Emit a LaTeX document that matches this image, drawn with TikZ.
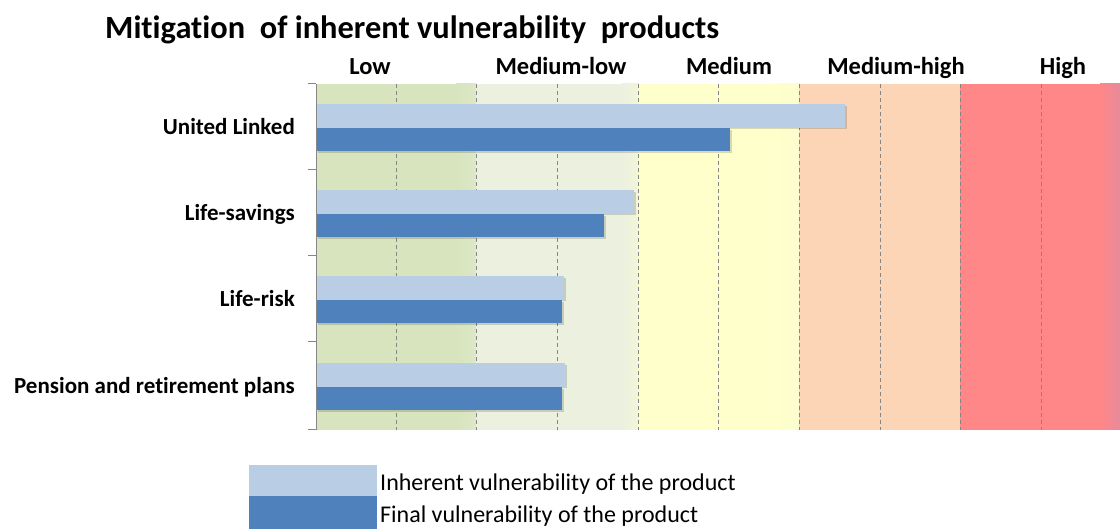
\documentclass[tikz,border=0pt]{standalone}
\usepackage{fontspec}
\setmainfont{Carlito}[RawFeature={-liga;-clig;-calt;-dlig}]
\definecolor{zlow}{HTML}{D7E4BD}
\definecolor{zmlow}{HTML}{EBF1DE}
\definecolor{zmed}{HTML}{FFFFCC}
\definecolor{zmhigh}{HTML}{FBD5B5}
\definecolor{zhigh}{HTML}{FF8787}
\definecolor{zedge}{HTML}{E68B9B}
\definecolor{barlight}{HTML}{B9CDE5}
\definecolor{bardark}{HTML}{4F81BD}
\definecolor{axisgray}{HTML}{868686}
\begin{document}
\begin{tikzpicture}[x=1pt,y=-1pt,
  titletext/.style={inner sep=0pt,anchor=base west,font=\fontsize{32.4}{38}\selectfont\bfseries},
  zonelabel/.style={inner sep=0pt,anchor=base,font=\fontsize{24.5}{28}\selectfont\bfseries},
  catlabel/.style={inner sep=0pt,anchor=base east,font=\fontsize{23}{28}\selectfont\bfseries},
  legtext/.style={inner sep=0pt,anchor=base west,font=\fontsize{24}{28}\selectfont},
  gridline/.style={axisgray,line width=1pt,dash pattern=on 4pt off 3pt},
  barshadow/.style={fill=black,opacity=0.15},
  lightbar/.style={fill=barlight},
  darkbar/.style={fill=bardark}]
\useasboundingbox (0,0) rectangle (1120,529);
% zones
\fill[zlow] (316,84) rectangle (476,430);
\shade[left color=zlow,right color=zlow!85!white] (456,84) rectangle (476,430);
\fill[zmlow] (476,84) rectangle (638,430);
\shade[left color=zmlow,right color=zmlow!70!zmed] (622,84) rectangle (638,430);
\fill[zmed] (638,84) rectangle (799,430);
\shade[left color=zmed,right color=zmed!85!zmlow] (775,84) rectangle (799,430);
\fill[zmhigh] (799,84) rectangle (960,430);
\fill[zhigh] (960,84) rectangle (1120,430);
\shade[left color=zhigh,right color=zedge] (1100,84) rectangle (1120,430);
% grid
\foreach \gx in {396,476,557,638,718,799,880,960,1041}
  \draw[gridline] (\gx,84) -- (\gx,430);
% bars: shadows
\foreach \c/\l/\d in {127/845/730,213/634/604,299/564/562,386/565/562}{
  \fill[barshadow] (318,\c-21) rectangle (\l+2,\c+2);
  \fill[barshadow] (318,\c+3) rectangle (\d+2,\c+26);
}
\foreach \c/\l/\d in {127/845/730,213/634/604,299/564/562,386/565/562}{
  \fill[lightbar] (316,\c-23) rectangle (\l,\c+1);
  \fill[darkbar] (316,\c+1) rectangle (\d,\c+24);
}
% axis
\draw[axisgray,line width=1pt] (316,84) -- (316,430);
\foreach \ty in {84,170,256,342,430}
  \draw[axisgray,line width=1pt] (308,\ty) -- (316,\ty);
% title
\node[titletext] (title) at (105,39) {Mitigation\ \ of inherent vulnerability\ \ products};
% zone labels
\node[zonelabel] (zl1) at (370,75) {Low};
\node[zonelabel] (zl2) at (561,75) {Medium-low};
\node[zonelabel] (zl3) at (729,75) {Medium};
\node[zonelabel] (zl4) at (896,75) {Medium-high};
\node[zonelabel] (zl5) at (1063,75) {High};
% category labels
\node[catlabel] (c1) at (295,135) {United Linked};
\node[catlabel] (c2) at (295,221) {Life-savings};
\node[catlabel] (c3) at (295,307) {Life-risk};
\node[catlabel] (c4) at (295,394) {Pension and retirement plans};
% legend
\fill[lightbar] (249,465) rectangle (377,496);
\fill[darkbar] (249,496) rectangle (377,529);
\node[legtext] (l1) at (380,490) {Inherent vulnerability of the product};
\node[legtext] (l2) at (380,522) {Final vulnerability of the product};
\end{tikzpicture}
\end{document}
